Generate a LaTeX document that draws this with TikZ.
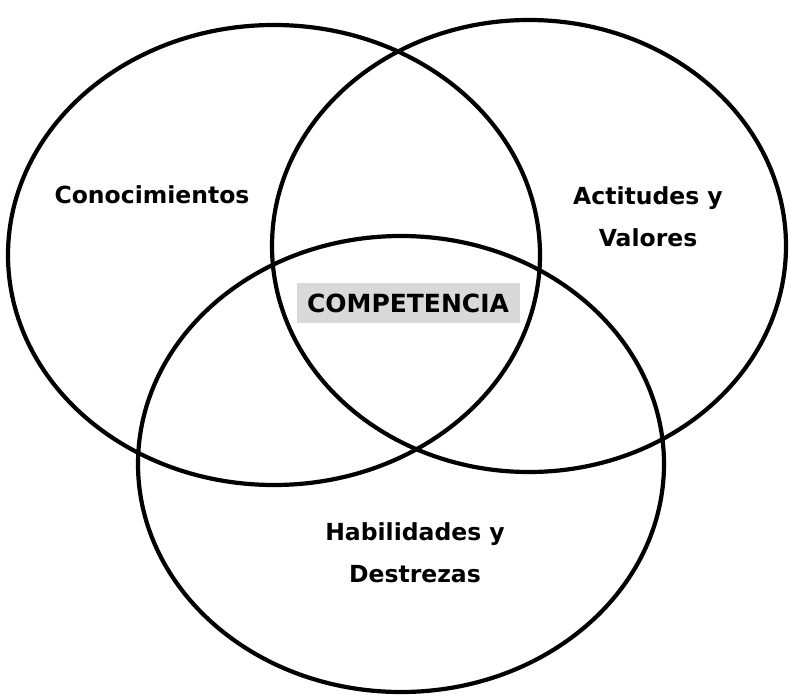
\documentclass[tikz,border=0pt]{standalone}
\usepackage{fontspec}
\setmainfont{DejaVu Sans}
\begin{document}
\begin{tikzpicture}[x=1pt,y=-1pt,
  ring/.style={draw=black,line width=4.2pt},
  lbl/.style={font=\fontsize{23.5}{42}\selectfont\bfseries,align=center,inner sep=0pt},
  core/.style={lbl,font=\fontsize{25}{30}\selectfont\bfseries,fill={rgb,255:red,217;green,217;blue,217},inner xsep=2pt,minimum height=40pt,minimum width=223pt}]
\useasboundingbox (0,0) rectangle (790,695);
\draw[ring] (274,255) ellipse [x radius=266, y radius=230];
\draw[ring] (529,246) ellipse [x radius=257, y radius=226];
\draw[ring] (401,464) ellipse [x radius=263, y radius=228];
\node[lbl] (con) at (152,195) {Conocimientos};
\node[lbl] (act) at (648,217) {Actitudes y\\Valores};
\node[lbl] (hab) at (415,553) {Habilidades y\\Destrezas};
\node[core] (comp) at (408,303) {COMPETENCIA};
\end{tikzpicture}
\end{document}
